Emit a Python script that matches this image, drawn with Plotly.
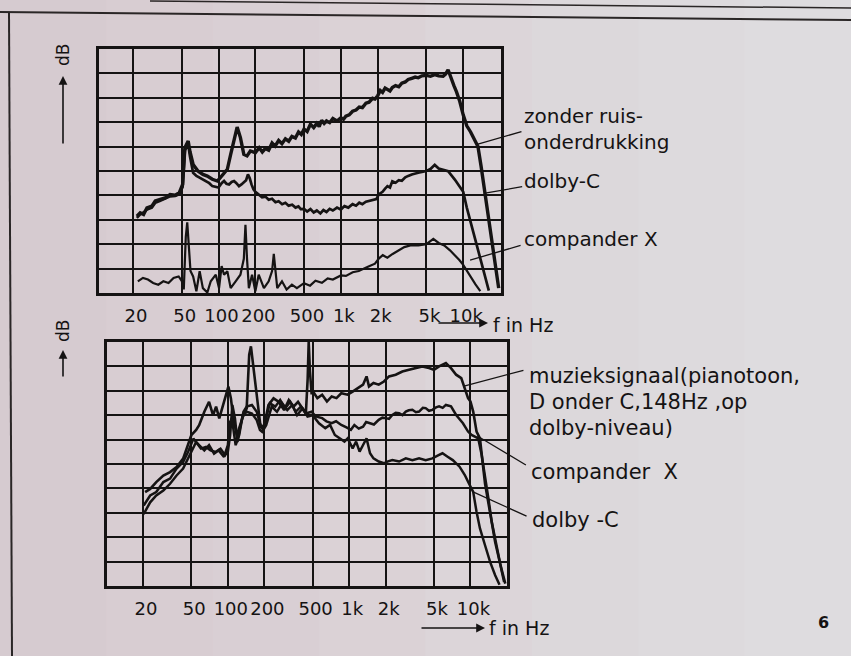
import math
import plotly.graph_objects as go

# ---------------- data (frequency in Hz, level in grid divisions, 0..10) ----------------
tick_freqs = [20, 50, 100, 200, 500, 1000, 2000, 5000, 10000]
tick_labels = ["20", "50", "100", "200", "500", "1k", "2k", "5k", "10k"]

# upper panel
top_zonder = [
    (21.5, 3.15), (22.9, 3.29), (24.4, 3.22), (26, 3.49), (28.5, 3.56), (30.4, 3.77), (33.4, 3.84),
    (36.6, 3.9), (40.2, 4.04), (44.2, 4.01), (47.8, 4.11), (50.9, 4.45), (53.1, 5.96), (56.5, 6.23),
    (58.4, 5.8), (62, 5.27), (67.8, 5.0), (74.5, 4.86), (81, 4.79), (89, 4.66), (98, 4.59),
    (107.7, 4.86), (118, 5.07), (125.7, 5.68), (133.7, 6.23), (142, 6.8), (151, 6.37), (161, 5.68),
    (171, 5.62), (182, 5.82), (200, 5.75), (215, 5.95), (228, 5.78), (241, 5.92), (257, 5.85),
    (274, 6.15), (290, 6.02), (310, 6.25), (330, 6.12), (352, 6.32), (375, 6.22), (398, 6.42),
    (425, 6.35), (451, 6.6), (475, 6.5), (500, 6.72), (530, 6.62), (564, 6.92), (600, 6.78),
    (636, 6.95), (665, 6.82), (696, 7.08), (730, 6.95), (763, 7.05), (810, 6.98), (860, 7.15),
    (930, 7.05), (1000, 7.18), (1050, 7.12), (1099, 7.25), (1170, 7.3), (1247, 7.45), (1330, 7.5),
    (1414, 7.62), (1500, 7.6), (1603, 7.78), (1700, 7.82), (1818, 7.98), (1900, 7.95), (2000, 8.08),
    (2100, 8.3), (2192, 8.22), (2300, 8.4), (2403, 8.35), (2520, 8.28), (2633, 8.42), (2800, 8.5),
    (2975, 8.45), (3150, 8.6), (3362, 8.65), (3550, 8.75), (3800, 8.8), (4050, 8.85), (4290, 8.82),
    (4600, 8.9), (5000, 8.92), (5400, 8.88), (5853, 8.95), (6300, 8.9), (6850, 8.88), (7200, 8.98),
    (7525, 9.15), (7800, 8.9), (8030, 8.72), (8400, 8.5), (8800, 8.25), (9380, 7.85), (10000, 7.3),
    (10700, 6.85), (11500, 6.6), (12300, 6.3), (13200, 6.0), (14000, 5.2), (15000, 4.2),
    (16200, 3.1), (17400, 2.0), (18600, 1.0), (19500, 0.2),
]
top_dolby = [
    (21.5, 3.08), (22.9, 3.22), (24.4, 3.3), (26, 3.42), (28.5, 3.5), (30.4, 3.7), (33.4, 3.78),
    (36.6, 3.86), (40.2, 3.96), (44.2, 3.98), (47.8, 4.05), (50.9, 4.35), (53.1, 5.85), (56.5, 6.1),
    (58.4, 5.6), (62, 4.93), (66, 4.8), (70, 4.73), (75, 4.65), (79, 4.59), (84, 4.5), (89, 4.38),
    (95, 4.35), (100, 4.32), (106, 4.5), (111, 4.59), (116, 4.48), (122, 4.45), (128, 4.55),
    (134, 4.59), (140, 4.5), (147, 4.38), (154, 4.45), (161, 4.52), (168, 4.62), (174, 4.86),
    (180, 4.7), (186, 4.45), (193, 4.25), (200, 4.15), (213, 4.02), (227, 3.92), (242, 3.95),
    (257, 3.82), (274, 3.86), (292, 3.72), (310, 3.76), (331, 3.64), (352, 3.7), (374, 3.58),
    (400, 3.62), (426, 3.5), (450, 3.55), (470, 3.44), (500, 3.45), (530, 3.34), (564, 3.44),
    (600, 3.3), (636, 3.38), (680, 3.26), (720, 3.4), (763, 3.32), (810, 3.45), (860, 3.38),
    (930, 3.5), (1000, 3.42), (1070, 3.56), (1150, 3.5), (1247, 3.64), (1330, 3.58), (1414, 3.7),
    (1500, 3.64), (1603, 3.74), (1700, 3.78), (1818, 3.82), (1950, 3.85), (2050, 4.05), (2192, 4.15),
    (2300, 4.28), (2403, 4.38), (2520, 4.32), (2633, 4.58), (2800, 4.52), (2975, 4.62), (3150, 4.6),
    (3362, 4.74), (3550, 4.8), (3800, 4.86), (4290, 4.93), (4600, 4.95), (5000, 5.0), (5400, 5.08),
    (5853, 5.25), (6300, 5.1), (6640, 5.06), (7530, 4.99), (8540, 4.65), (9100, 4.45), (10000, 4.15),
    (10700, 3.5), (11500, 2.9), (12300, 2.3), (13200, 1.7), (14100, 1.15), (15200, 0.6), (16200, 0.1),
]
top_compander = [
    (21.9, 0.48), (24.1, 0.62), (26.5, 0.55), (29.2, 0.41), (32.2, 0.34), (35.4, 0.48), (39, 0.41),
    (42.9, 0.62), (47.2, 0.68), (50, 0.5), (52, 0.15), (54, 2.3), (55.5, 2.9), (57, 2.0), (59, 0.9),
    (62, 0.68), (65.9, 0.07), (70.1, 0.89), (74.5, 0.2), (81, 0.02), (86.4, 0.48), (95, 0.75),
    (101, 0.2), (106, 1.1), (111, 0.75), (118, 0.89), (125.7, 0.2), (138, 0.48), (151, 0.75),
    (161, 1.4), (166, 2.8), (171, 1.4), (177, 0.2), (188, 0.75), (200, 0.07), (213, 0.75),
    (235, 0.2), (257, 0.48), (274, 0.9), (283, 1.6), (292, 0.75), (302, 0.2), (330, 0.48),
    (360, 0.14), (398, 0.34), (437, 0.2), (480, 0.34), (500, 0.4), (560, 0.3), (620, 0.5),
    (700, 0.42), (780, 0.6), (860, 0.55), (1000, 0.72), (1100, 0.7), (1250, 0.85), (1400, 0.9),
    (1550, 1.02), (1700, 1.1), (1900, 1.2), (2050, 1.42), (2200, 1.55), (2400, 1.45), (2650, 1.6),
    (2900, 1.72), (3300, 1.88), (3700, 1.95), (4300, 1.95), (5000, 2.0), (5700, 2.22), (6300, 2.05),
    (7000, 1.95), (7800, 1.75), (8600, 1.55), (9300, 1.35), (10000, 1.15), (10700, 0.9),
    (11600, 0.6), (12600, 0.35), (13800, 0.08),
]

# lower panel
bot_music = [
    (20.8, 3.85), (22.9, 3.98), (25.7, 4.26), (29.4, 4.53), (33.4, 4.67), (37.8, 4.88), (42.8, 5.22),
    (47, 5.77), (50, 6.18), (54.8, 6.4), (58, 6.59), (64, 7.14), (70, 7.55), (75.5, 7.0), (80, 7.35),
    (85, 6.87), (91, 7.35), (97, 7.9), (101, 8.17), (106, 7.69), (111, 6.87), (118.6, 6.18),
    (126, 6.59), (134.5, 7.0), (143, 7.28), (148, 8.6), (150, 9.48), (155, 9.82), (163, 8.93),
    (175, 7.55), (186, 6.52), (200, 6.59), (216, 7.42), (238, 7.69), (262, 7.55), (291, 7.21),
    (318, 7.62), (348, 7.35), (379, 7.55), (410, 7.3), (440, 7.1), (455, 8.5), (464, 10.0),
    (475, 8.8), (490, 7.9), (515, 7.9), (547, 7.7), (599, 7.84), (656, 7.56), (718, 7.77),
    (786, 7.7), (861, 7.9), (972, 7.84), (1068, 7.97), (1179, 8.11), (1302, 8.25), (1391, 8.59),
    (1457, 8.18), (1587, 8.32), (1753, 8.25), (1935, 8.38), (2130, 8.59), (2419, 8.66), (2744, 8.79),
    (3114, 8.86), (3534, 8.93), (4005, 9.0), (4550, 8.93), (5000, 8.86), (5510, 9.0), (6270, 9.14),
    (6910, 8.93), (7615, 8.66), (8395, 8.52), (8965, 8.11), (9550, 7.7), (10000, 7.56),
    (10530, 7.15), (11220, 6.33), (11970, 6.05), (12500, 5.2), (13180, 4.2), (14510, 3.0),
    (15970, 1.8), (17580, 0.9), (19360, 0.1),
]
bot_compander = [
    (20.25, 3.3), (22.9, 3.71), (25.7, 3.85), (29.4, 4.26), (33.4, 4.4), (37.8, 4.81), (42.8, 5.08),
    (47, 5.49), (52, 6.04), (56, 5.8), (60, 5.63), (66, 5.7), (72, 5.56), (79, 5.49), (87, 5.63),
    (95, 5.36), (100, 5.5), (104.5, 6.18), (109, 7.42), (114.5, 6.87), (120, 5.9), (126, 6.46),
    (134.5, 7.14), (143, 7.35), (158, 7.42), (173, 7.14), (184, 6.66), (195, 6.39), (207, 6.87),
    (222, 7.49), (246, 7.35), (270, 7.62), (297, 7.28), (327, 7.55), (362, 7.14), (400, 7.35),
    (440, 7.07), (490, 7.14), (530, 6.95), (599, 6.88), (650, 6.75), (718, 6.67), (780, 6.75),
    (861, 6.6), (950, 6.5), (1033, 6.4), (1104, 6.6), (1200, 6.45), (1302, 6.53), (1380, 6.72),
    (1486, 6.67), (1600, 6.62), (1753, 6.81), (1880, 6.9), (2000, 6.88), (2130, 6.85), (2270, 7.01),
    (2420, 7.1), (2580, 7.08), (2750, 7.0), (2930, 7.15), (3100, 7.2), (3320, 7.22), (3550, 7.12),
    (3770, 7.15), (4050, 7.3), (4270, 7.29), (4550, 7.18), (4850, 7.22), (5200, 7.32), (5510, 7.36),
    (5900, 7.3), (6270, 7.42), (6910, 7.36), (7615, 7.01), (8670, 6.67), (9550, 6.33),
    (10200, 6.19), (10870, 6.12), (11590, 6.05), (12370, 5.37), (13180, 4.55), (14050, 3.59),
    (14970, 2.63), (16480, 1.53), (18130, 0.58), (18930, 0.16),
]
bot_dolby = [
    (20.25, 2.95), (22.9, 3.43), (25.7, 3.71), (29.4, 3.91), (33.4, 4.19), (37.8, 4.53), (42.8, 4.81),
    (47, 5.22), (54.8, 5.9), (58, 5.77), (64, 5.56), (70, 5.77), (77, 5.42), (84, 5.56), (93, 5.29),
    (100, 5.77), (104.5, 6.73), (108, 6.87), (116, 5.77), (124, 6.18), (132, 6.94), (143, 7.14),
    (158, 7.07), (173, 6.8), (184, 6.39), (192, 6.32), (207, 6.59), (230, 7.35), (254, 7.14),
    (280, 7.49), (309, 7.21), (340, 7.42), (372, 7.0), (412, 7.28), (454, 6.94), (500, 7.0),
    (564, 6.67), (636, 6.47), (696, 6.6), (762, 6.19), (835, 6.05), (915, 5.92), (972, 6.05),
    (1068, 5.64), (1141, 5.92), (1219, 5.51), (1302, 5.78), (1391, 6.05), (1486, 5.44), (1587, 5.23),
    (1753, 5.1), (1935, 5.03), (2063, 5.1), (2270, 5.16), (2580, 5.1), (2930, 5.23), (3320, 5.16),
    (3770, 5.23), (4270, 5.16), (4850, 5.23), (5510, 5.37), (5880, 5.44), (6480, 5.3), (7140, 5.16),
    (8130, 4.89), (8980, 4.55), (9550, 4.27), (10200, 4.0), (10530, 3.86), (11220, 3.04),
    (11970, 2.36), (13180, 1.67), (14510, 0.99), (15970, 0.44), (17350, 0.05),
]

top_labels = ["zonder ruis-<br>onderdrukking", "dolby-C", "compander X"]
bot_labels = ["muzieksignaal(pianotoon,", "D onder C,148Hz ,op", "dolby-niveau)", "compander  X", "dolby -C"]

# ---------------- figure ----------------
W, H = 851, 656
INK = "#151313"
FONT = "DejaVu Sans"


def px(x):
    return x / W


def py(y):
    return 1 - y / H


fig = go.Figure()

for series, width in [(top_zonder, 3.4), (top_dolby, 2.7), (top_compander, 2.2)]:
    f, lv = zip(*series)
    fig.add_trace(go.Scatter(x=list(f), y=list(lv), mode="lines", xaxis="x", yaxis="y",
                             line=dict(color=INK, width=width), hoverinfo="skip", showlegend=False))
for series, width in [(bot_music, 2.6), (bot_compander, 2.5), (bot_dolby, 2.5)]:
    f, lv = zip(*series)
    fig.add_trace(go.Scatter(x=list(f), y=list(lv), mode="lines", xaxis="x2", yaxis="y2",
                             line=dict(color=INK, width=width), hoverinfo="skip", showlegend=False))

xcommon = dict(type="log", tickmode="array", tickvals=tick_freqs, ticktext=tick_labels,
               showgrid=True, gridcolor=INK, gridwidth=2, showline=True, linecolor=INK,
               linewidth=3, mirror=True, ticks="", zeroline=False, fixedrange=True,
               tickfont=dict(family=FONT, size=18, color=INK), ticklabelstandoff=4,
               ticklabelshift=3)
ycommon = dict(range=[0, 10], tick0=0, dtick=1, showgrid=True, gridcolor=INK, gridwidth=2,
               showline=True, linecolor=INK, linewidth=3, mirror=True, ticks="",
               showticklabels=False, zeroline=False, fixedrange=True)

# background: scanned paper tone, slightly pink on the left, greyer on the right
band_cols = ["#d6cbd0", "#d8cdd2", "#d9cfd4", "#dbd2d6", "#dcd5d9", "#dcd8db", "#dddadd", "#dedcdf"]
shapes = []
nb = len(band_cols)
for i, c in enumerate(band_cols):
    shapes.append(dict(type="rect", xref="paper", yref="paper", x0=i / nb, x1=(i + 1) / nb + 0.002,
                       y0=0, y1=1, fillcolor=c, line=dict(width=0), layer="below"))
# page frame lines of the scan
shapes += [
    dict(type="line", xref="paper", yref="paper", x0=px(0), y0=py(12), x1=px(851), y1=py(20),
         line=dict(color="#2a2626", width=2)),
    dict(type="line", xref="paper", yref="paper", x0=px(150), y0=py(1), x1=px(851), y1=py(8),
         line=dict(color="#2a2626", width=1.5)),
    dict(type="line", xref="paper", yref="paper", x0=px(9), y0=py(12), x1=px(12), y1=py(656),
         line=dict(color="#2a2626", width=2)),
]

ann = []


def text(t, x, y, size=21, anchor="left", **kw):
    ann.append(dict(text=t, x=px(x), y=py(y), xref="paper", yref="paper", showarrow=False,
                    xanchor=anchor, yanchor="middle", align="left",
                    font=dict(family=FONT, size=size, color=INK), **kw))


for t, y in zip(top_labels, [129, 181, 239]):
    text(t, 522, y, size=20)
for t, x, y in zip(bot_labels, [527, 527, 527, 529, 530], [376, 402, 428, 472, 520]):
    text(t, x, y)

# axis names
text("dB", 63, 55, size=17, anchor="center", textangle=-90)
text("dB", 63, 331, size=17, anchor="center", textangle=-90)
text("f in Hz", 491, 325, size=19)
text("f in Hz", 487, 628, size=19)
text("<b>6</b>", 823, 622, size=16, anchor="center")


def arrow(x_tip, y_tip, dx, dy, head=2):
    ann.append(dict(text="", x=px(x_tip), y=py(y_tip), xref="paper", yref="paper", ax=dx, ay=dy,
                    showarrow=True, arrowhead=head, arrowsize=1.1, arrowwidth=1.6, arrowcolor=INK))


arrow(63, 76, 0, 69)
arrow(63, 350, 0, 28)
arrow(488, 323, -51, 0)
arrow(485, 628, -65, 0)


# leader lines from the curves to their labels (log axes take log10 positions)
def leader(f, lvl, dx, dy, xr, yr):
    ann.append(dict(text="", x=math.log10(f), y=lvl, xref=xr, yref=yr, ax=dx, ay=dy, showarrow=True,
                    arrowhead=0, arrowwidth=1.3, arrowcolor=INK, standoff=0))


leader(13200, 6.1, 45, -13, "x", "y")
leader(14700, 4.08, 40, -7, "x", "y")
leader(11380, 1.35, 52, -15, "x", "y")
leader(9000, 8.2, 60, -16, "x2", "y2")
leader(11400, 6.15, 50, 30, "x2", "y2")
leader(10500, 3.86, 55, 25, "x2", "y2")

fig.update_layout(
    width=W, height=H, autosize=False,
    margin=dict(l=0, r=0, t=0, b=0, pad=0),
    paper_bgcolor="#dad2d6", plot_bgcolor="rgba(0,0,0,0)",
    showlegend=False,
    xaxis=dict(domain=[px(99), px(501)], range=[1.023, 4.309], anchor="y", **xcommon),
    yaxis=dict(domain=[py(293), py(49)], anchor="x", **ycommon),
    xaxis2=dict(domain=[px(107), px(507)], range=[1.004, 4.301], anchor="y2", **xcommon),
    yaxis2=dict(domain=[py(586), py(342)], anchor="x2", **ycommon),
    shapes=shapes,
    annotations=ann,
)

fig.write_html("out.html", config={"displayModeBar": False},
               post_script="document.body.style.margin='0';document.body.style.overflow='hidden';")
